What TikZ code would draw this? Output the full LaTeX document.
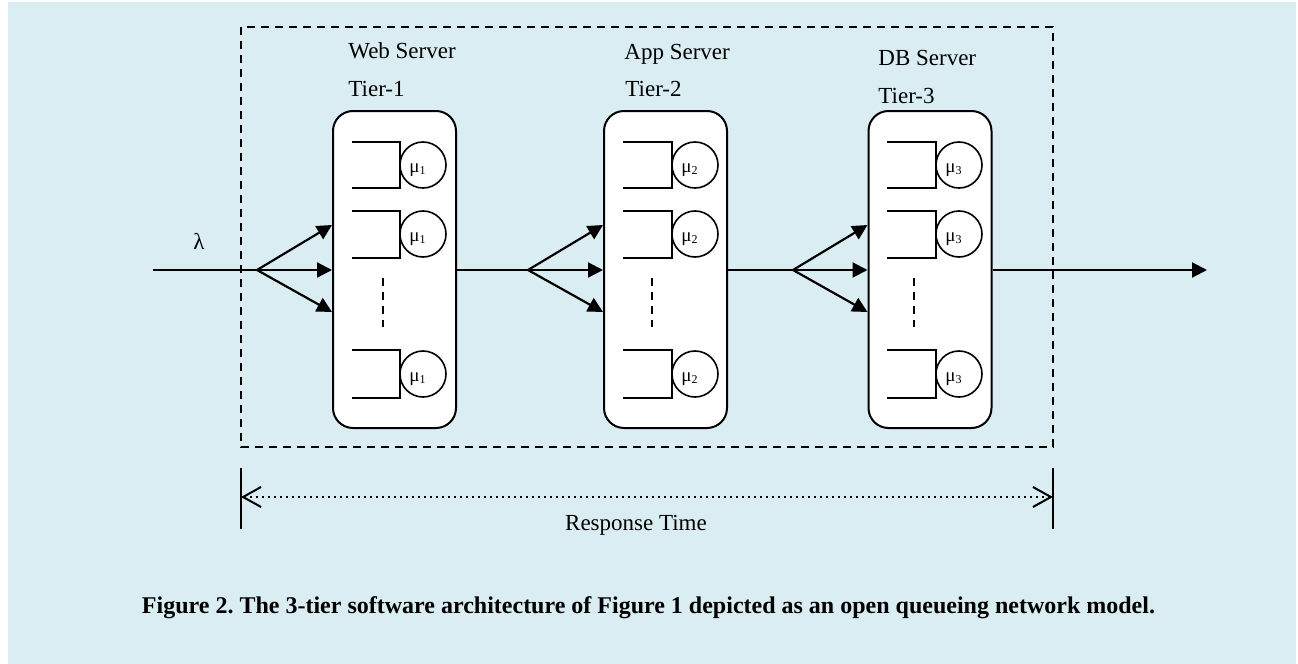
\documentclass[tikz,border=0pt]{standalone}
\usepackage{fontspec}
\setmainfont{Liberation Serif}
\usetikzlibrary{arrows.meta}
\definecolor{panelblue}{RGB}{218,237,243}
\frenchspacing
\tikzset{
  line/.style={line width=1.1pt},
  flow/.style={line, -{Triangle[length=7.5pt,width=7.5pt]}},
  tierbox/.style={draw, line width=1pt, fill=white, rounded corners=10pt,
    minimum width=61.5pt, minimum height=158.5pt, inner sep=0pt},
  server/.style={draw, circle, line width=0.8pt, minimum size=23pt, inner sep=0pt},
  label/.style={font=\fontsize{11.5}{13}\selectfont, inner sep=0pt, anchor=base west},
  rate/.style={font=\fontsize{9.5}{11}\selectfont, inner sep=0pt, anchor=base west},
}
% \queuerow{name}{queue left}{queue right}{circle x}{top}{bottom}{centre y}{index}
\newcommand{\queuerow}[8]{%
  \draw[line width=0.8pt] (#2,#5) -- (#3,#5) -- (#3,#6) -- (#2,#6);
  \node[server] (#1) at (#4,#7) {};
  \node[rate] at (#4-14,#7+7) {μ\raisebox{-1.2pt}{\fontsize{6}{7}\selectfont #8}};
}
\begin{document}
\begin{tikzpicture}[x=0.5pt,y=-0.5pt]
  \useasboundingbox (0,0) rectangle (1298,664);
  \fill[panelblue] (8,2) rectangle (1296,664);

  % enclosing system boundary
  \draw[line width=1pt, dash pattern=on 4pt off 3pt] (241,27) rectangle (1053,447);

  % tier boxes
  \node[tierbox] (t1) at (394.5,269.5) {};
  \node[tierbox] (t2) at (665.5,269.5) {};
  \node[tierbox] (t3) at (930,269.5) {};

  % tier captions
  \node[label] (w) at (348,58) {Web Server};
  \node[label] (l1) at (348,97) {Tier-1};
  \node[label] (a) at (624,59) {App Server};
  \node[label] (l2) at (625,97) {Tier-2};
  \node[label] (d) at (878,65) {DB Server};
  \node[label] (l3) at (878,103) {Tier-3};

  % queues with their servers
  \queuerow{s11}{352}{400}{423}{142}{188}{165}{1}
  \queuerow{s12}{352}{400}{423}{211}{258}{234}{1}
  \queuerow{s13}{352}{400}{423}{350}{398}{374}{1}
  \queuerow{s21}{623}{672}{695}{142}{188}{165}{2}
  \queuerow{s22}{623}{672}{695}{211}{258}{234}{2}
  \queuerow{s23}{623}{672}{695}{350}{398}{374}{2}
  \queuerow{s31}{887}{936}{959}{142}{188}{165}{3}
  \queuerow{s32}{887}{936}{959}{211}{258}{234}{3}
  \queuerow{s33}{887}{936}{959}{350}{398}{374}{3}

  % ellipsis between servers
  \draw[line width=0.8pt, dash pattern=on 4pt off 3pt] (383,278) -- (383,327);
  \draw[line width=0.8pt, dash pattern=on 4pt off 3pt] (652,278) -- (652,327);
  \draw[line width=0.8pt, dash pattern=on 4pt off 3pt] (914,278) -- (914,327);

  % arrival stream and forks
  \coordinate (src) at (153,270);
  \coordinate (f1) at (257,270);
  \coordinate (f2) at (528,270);
  \coordinate (f3) at (793,270);
  \coordinate (sink) at (1207,270);
  \node[font=\fontsize{11.5}{13}\selectfont, inner sep=0pt] (lam) at (199,241) {λ};

  \draw[line] (src) -- (f1);
  \draw[flow] (f1) -- (t1.west |- 0,225);
  \draw[flow] (f1) -- (t1.west |- f1);
  \draw[flow] (f1) -- (t1.west |- 0,312);

  \draw[line] (t1.east |- f1) -- (f2);
  \draw[flow] (f2) -- (t2.west |- 0,225);
  \draw[flow] (f2) -- (t2.west |- f2);
  \draw[flow] (f2) -- (t2.west |- 0,312);

  \draw[line] (t2.east |- f2) -- (f3);
  \draw[flow] (f3) -- (t3.west |- 0,225);
  \draw[flow] (f3) -- (t3.west |- f3);
  \draw[flow] (f3) -- (t3.west |- 0,312);

  \draw[flow] (t3.east |- f3) -- (sink);

  % response time span
  \coordinate (rl) at (241,497);
  \coordinate (rr) at (1053,497);
  \draw[line width=0.8pt] (241,468) -- (241,529);
  \draw[line width=0.8pt] (1053,468) -- (1053,529);
  \draw[line width=1pt, dotted, {Straight Barb[length=9pt,width=10pt]}-{Straight Barb[length=9pt,width=10pt]}] (rl) -- (rr);
  \node[font=\fontsize{11.5}{13}\selectfont, inner sep=0pt, anchor=base] (rt) at (636,530) {Response Time};

  % caption
  \node[font=\fontsize{12}{14}\selectfont\bfseries, inner sep=0pt, anchor=base] (cap) at (648.5,613)
    {Figure 2. The 3-tier software architecture of Figure 1 depicted as an open queueing network model.};
\end{tikzpicture}
\end{document}
